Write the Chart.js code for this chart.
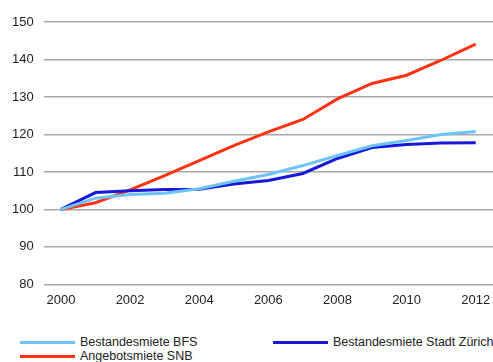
<!DOCTYPE html>
<html>
<head>
<meta charset="utf-8">
<script src="https://cdn.jsdelivr.net/npm/chart.js@4/dist/chart.umd.min.js"></script>
<style>
  html, body { margin: 0; padding: 0; background: #fff; }
  #wrap { position: relative; width: 493px; height: 362px; overflow: hidden; }
  #chart-box { position: absolute; left: 0; top: 0; width: 493px; height: 308px; }
  #legend { position: absolute; left: 20px; top: 335px; width: 480px;
            font: 12.5px "Liberation Sans", Arial, sans-serif; color: #222; }
  .leg-item { position: absolute; display: flex; align-items: center; white-space: nowrap; }
  .leg-line { width: 55px; height: 3px; margin-right: 5px; }
</style>
</head>
<body>
<div id="wrap">
  <div id="chart-box"><canvas id="mieten"></canvas></div>
  <div id="legend"></div>
</div>
<script>
const JAHRE = ["2000","2001","2002","2003","2004","2005","2006","2007","2008","2009","2010","2011","2012"];

const BESTAND_BFS    = [100, 103.0, 104.0, 104.3, 105.5, 107.5, 109.3, 111.7, 114.4, 117.0, 118.4, 120.0, 120.8];
const BESTAND_ZUERICH = [100, 104.5, 105.0, 105.3, 105.4, 106.8, 107.7, 109.6, 113.6, 116.5, 117.3, 117.7, 117.8];
const ANGEBOT_SNB    = [100, 101.8, 105.2, 109.0, 113.0, 117.0, 120.7, 124.0, 129.5, 133.6, 135.8, 139.8, 144.1];

const Y_MIN = 80, Y_MAX = 150, Y_STEP = 10;

const SERIEN = [
  { label: "Bestandesmiete BFS",          data: BESTAND_BFS,     color: "#6cc4f8", pos: [0, 0] },
  { label: "Bestandesmiete Stadt Zürich", data: BESTAND_ZUERICH, color: "#1818d8", pos: [253, 0] },
  { label: "Angebotsmiete SNB",           data: ANGEBOT_SNB,     color: "#ff3312", pos: [0, 14] },
];

const FONT = { family: '"Liberation Sans", Arial, sans-serif', size: 13 };

new Chart(document.getElementById("mieten"), {
  type: "line",
  data: {
    labels: JAHRE,
    datasets: SERIEN.map((s) => ({
      label: s.label,
      data: s.data,
      borderColor: s.color,
      backgroundColor: s.color,
      borderWidth: 3,
      pointRadius: 0,
      tension: 0,
    })),
  },
  options: {
    responsive: true,
    maintainAspectRatio: false,
    animation: false,
    layout: { padding: { top: 22, right: 0, left: 2 } },
    plugins: { legend: { display: false }, tooltip: { enabled: false } },
    scales: {
      x: {
        offset: true,
        grid: { display: false },
        border: { display: false },
        ticks: {
          autoSkip: false,
          maxRotation: 0,
          padding: 0,
          color: "#222",
          font: FONT,
          callback: (v, i) => (i % 2 === 0 ? JAHRE[i] : ""),
        },
      },
      y: {
        min: Y_MIN,
        max: Y_MAX,
        ticks: { stepSize: Y_STEP, padding: 10, color: "#222", font: FONT },
        grid: { color: "#a8a8a8", lineWidth: 1.5, drawTicks: false },
        border: { display: false },
      },
    },
  },
});

// legend laid out in two columns below the plot
const legend = document.getElementById("legend");
SERIEN.forEach((s) => {
  const item = document.createElement("div");
  item.className = "leg-item";
  item.style.left = s.pos[0] + "px";
  item.style.top = s.pos[1] + "px";
  item.innerHTML = `<span class="leg-line" style="background:${s.color}"></span><span>${s.label}</span>`;
  legend.appendChild(item);
});
</script>
</body>
</html>
